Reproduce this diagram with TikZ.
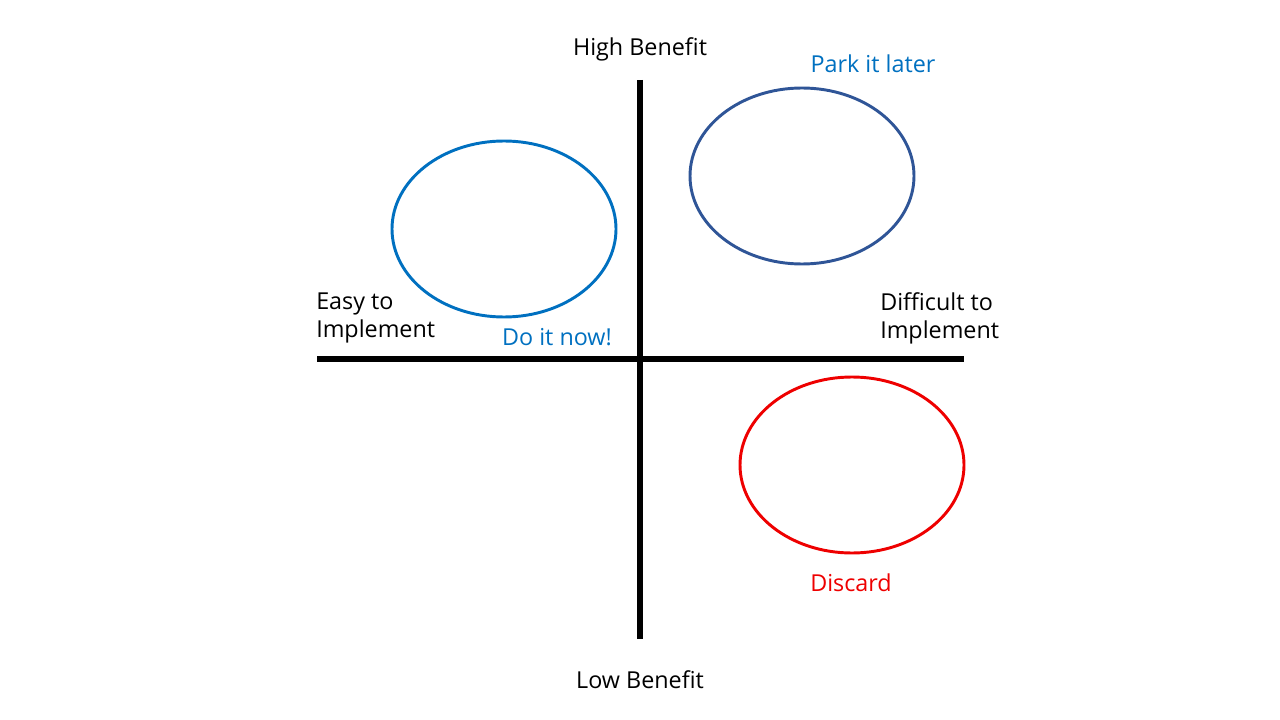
\documentclass[tikz,border=0pt]{standalone}
\usepackage{fontspec}
\setmainfont{Open Sans}
\usepackage{tikz}
\usetikzlibrary{shapes}
\usetikzlibrary{arrows.meta}

\definecolor{doblue}{HTML}{0070C0}
\definecolor{parkblue}{HTML}{2F5597}
\definecolor{discardred}{HTML}{EE0000}

\begin{document}
\begin{tikzpicture}[
        x=0.75pt, y=-0.75pt,
        every node/.style={font=\fontsize{17.5}{21}\selectfont},
        axis/.style={line width=4.5pt,black},
        zone/.style={ellipse,draw,line width=2.2pt,minimum width=168pt,minimum height=132pt,inner sep=0pt},
        sidelabel/.style={anchor=west,align=left,inner sep=0pt},
        ]
        \useasboundingbox (0,0) rectangle (1280,720);

        % axes
        \coordinate (top) at (640,80);
        \coordinate (bottom) at (640,639);
        \coordinate (left) at (317,359);
        \coordinate (right) at (964,359);
        \draw[axis] (top) -- (bottom);
        \draw[axis] (left) -- (right);

        \node(high) at (640,49){High Benefit};
        \node(low) at (640,680){Low Benefit};
        \node[sidelabel](easy) at (316,318){Easy to\\Implement};
        \node[sidelabel](difficult) at (880,318){Difficult to\\Implement};

        % quadrants
        \node[zone,draw=doblue](now) at (504,229){};
        \node[zone,draw=parkblue](park) at (802,176){};
        \node[zone,draw=discardred](discard) at (852,465){};

        \node[text=doblue](now_label) at (557,337){Do it now!};
        \node[text=doblue](park_label) at (873,64){Park it later};
        \node[text=discardred](discard_label) at (851,583){Discard};

        \end{tikzpicture}
\end{document}
